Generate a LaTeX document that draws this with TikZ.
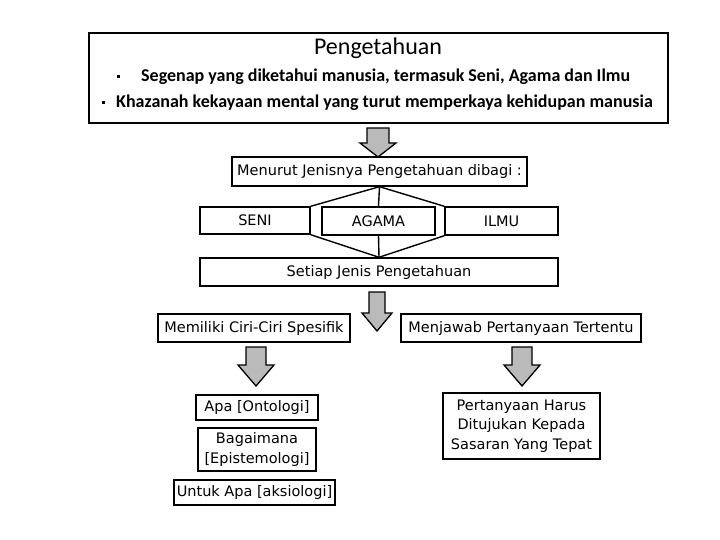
\documentclass[tikz,border=0pt]{standalone}
\usepackage{fontspec}
\setmainfont{DejaVu Sans}
\newfontfamily\calfont{Carlito}
\newcommand{\blockarrow}[6]{% cx, ytop, ybot, yhead, shafthalf, headhalf
  \draw[arrowfill] (#1-#5,#2) -- (#1+#5,#2) -- (#1+#5,#4) -- (#1+#6,#4) -- (#1,#3) -- (#1-#6,#4) -- (#1-#5,#4) -- cycle;}
\begin{document}
\begin{tikzpicture}[x=1pt,y=-1pt,
  box/.style={draw, line width=1.4pt, inner sep=0pt, align=center, font=\fontsize{14.5}{19.5}\selectfont},
  arrowfill/.style={draw, line width=1.3pt, fill=black!27, line join=miter},
  conn/.style={line width=1.4pt}]
\useasboundingbox (0,0) rectangle (720,540);
\node[draw, line width=1.6pt, minimum width=579pt, minimum height=90pt] (top) at (378.5,78) {};
\node[font=\calfont\fontsize{24}{26}\selectfont] (title) at (378,48) {Pengetahuan};
\node[fill=black, inner sep=0pt, minimum size=3pt] (b1) at (118,77) {};
\node[fill=black, inner sep=0pt, minimum size=3pt] (b2) at (103,103) {};
\node[anchor=west, inner sep=0pt, font=\calfont\bfseries\fontsize{18}{20}\selectfont] (l1) at (141,77) {Segenap yang diketahui manusia, termasuk Seni, Agama dan Ilmu};
\node[anchor=west, inner sep=0pt, font=\calfont\bfseries\fontsize{18}{20}\selectfont] (l2) at (116,103) {Khazanah kekayaan mental yang turut memperkaya kehidupan manusia};
\blockarrow{378}{128}{157}{143}{11}{18}
\node[box, minimum width=295pt, minimum height=29pt] (menurut) at (379.5,171.5) {Menurut Jenisnya Pengetahuan dibagi :};
\node[box, minimum width=110pt, minimum height=27pt] (seni) at (255,220.5) {SENI};
\node[box, minimum width=113pt, minimum height=28pt] (agama) at (378.5,221) {AGAMA};
\node[box, minimum width=113pt, minimum height=28pt] (ilmu) at (501.5,221) {ILMU};
\node[box, minimum width=358pt, minimum height=28pt] (setiap) at (379,272) {Setiap Jenis Pengetahuan};
\draw[conn] (menurut.south) -- (agama.north);
\draw[conn] (agama.south) -- (setiap.north);
\draw[conn] (seni.north east) -- (menurut.south) -- (ilmu.north west);
\draw[conn] (seni.south east) -- (setiap.north) -- (ilmu.south west);
\blockarrow{377}{292}{331}{313}{8}{15}
\node[box, minimum width=192pt, minimum height=28pt] (ciri) at (254,328) {Memiliki Ciri-Ciri Spesifik};
\node[box, minimum width=240pt, minimum height=28pt] (jawab) at (521,328) {Menjawab Pertanyaan Tertentu};
\blockarrow{256}{347}{386}{365}{10}{18}
\blockarrow{522}{347}{386}{365}{10}{18}
\node[box, minimum width=122pt, minimum height=25pt] (apa) at (257,407.5) {Apa [Ontologi]};
\node[box, minimum width=118pt, minimum height=43pt] (bag) at (257,449.5) {Bagaimana\\{}[Epistemologi]};
\node[box, minimum width=161pt, minimum height=25pt] (untuk) at (254.5,492.5) {Untuk Apa [aksiologi]};
\node[box, minimum width=157pt, minimum height=66pt] (tanya) at (521.5,426) {Pertanyaan Harus\\Ditujukan Kepada\\Sasaran Yang Tepat};
\end{tikzpicture}
\end{document}
